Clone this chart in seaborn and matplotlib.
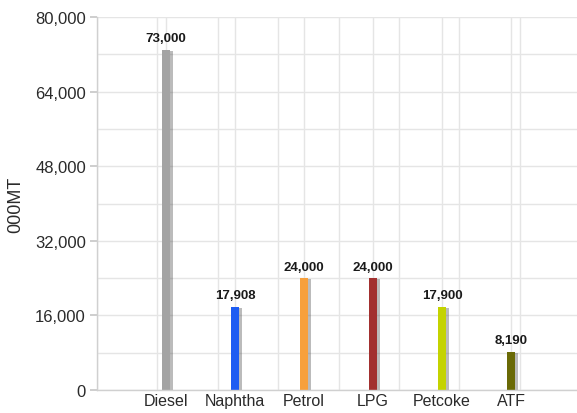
import numpy as np
import pandas as pd
import matplotlib
matplotlib.use("Agg")
import matplotlib.pyplot as plt
import matplotlib.patheffects as pe
from matplotlib.ticker import MultipleLocator, FixedLocator, FuncFormatter
import seaborn as sns

products = ["Diesel", "Naphtha", "Petrol", "LPG", "Petcoke", "ATF"]
volumes = [73000, 17908, 24000, 24000, 17900, 8190]
bar_colors = ["#a3a3a3", "#1d5cf2", "#f7a03c", "#a2302f", "#c4d300", "#6a6a06"]
y_ticks = [0, 16000, 32000, 48000, 64000, 80000]

df = pd.DataFrame({"product": products, "volume": volumes})

sns.set_theme(style="white")
plt.rcParams["font.family"] = ["Liberation Sans", "DejaVu Sans"]

fig = plt.figure(figsize=(5.77, 4.14), dpi=100)
ax = fig.add_axes([97 / 577, 23 / 414, 483 / 577, 373 / 414])

sns.barplot(data=df, x="product", y="volume", hue="product",
            palette=bar_colors, width=0.13, legend=False, ax=ax,
            saturation=1)

shadow = [pe.SimplePatchShadow(offset=(2, -1), shadow_rgbFace="#555555", alpha=0.4),
          pe.Normal()]
for patch in ax.patches:
    patch.set_path_effects(shadow)
    patch.set_linewidth(0)

for cont in ax.containers:
    ax.bar_label(cont, labels=[f"{v:,.0f}" for v in cont.datavalues],
                 padding=4, fontsize=9.5, fontweight="bold", color="#1a1a1a")

ax.set_xlim(-1, 6)
ax.set_ylim(0, 80000)
ax.yaxis.set_major_locator(FixedLocator(y_ticks))
ax.yaxis.set_minor_locator(MultipleLocator(8000))
ax.yaxis.set_major_formatter(FuncFormatter(lambda v, _: f"{v:,.0f}"))
ax.xaxis.set_minor_locator(FixedLocator(np.linspace(-1, 6, 9)))

ax.grid(which="both", axis="both", color="#e5e5e5", linewidth=1)
ax.set_axisbelow(True)

for side in ["top", "right"]:
    ax.spines[side].set_visible(False)
for side in ["left", "bottom"]:
    ax.spines[side].set_color("#d0d0d0")
    ax.spines[side].set_linewidth(1)

ax.tick_params(axis="y", which="major", left=True, length=5, color="#c8c8c8",
               labelsize=12, labelcolor="#2a2a2a", pad=3)
ax.tick_params(axis="y", which="minor", left=False)
ax.tick_params(axis="x", which="both", bottom=False, length=0, labelsize=11.5,
               labelcolor="#2a2a2a", pad=2)

ax.set_xlabel("")
ax.set_ylabel("000MT", fontsize=13, color="#2a2a2a", labelpad=8)

fig.savefig("out.png", dpi=100)
